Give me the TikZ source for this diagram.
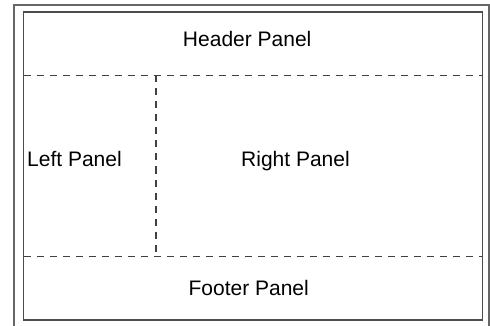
\documentclass[tikz,border=0pt]{standalone}
\usepackage{fontspec}
\setmainfont{Liberation Sans}
\usepackage{tikz}
\usetikzlibrary{positioning}

\begin{document}
\begin{tikzpicture}[x=1pt,y=-1pt,
  frame/.style={line width=1.5pt,draw=black!70},
  divider/.style={line width=1.4pt,draw=black!75,dash pattern=on 7pt off 6pt},
  label/.style={anchor=base,inner sep=0pt,font=\fontsize{21}{25}\selectfont}]
\useasboundingbox (0,0) rectangle (490,326);
\clip (0,0) rectangle (490,326);
\draw[frame,draw=black!60] (14,5) rectangle (489,340);
\draw[frame] (23.5,12) rectangle (482.5,320);
\coordinate (hl) at (23.5,75.5);
\coordinate (hr) at (482.5,75.5);
\coordinate (fl) at (23.5,256.5);
\coordinate (fr) at (482.5,256.5);
\coordinate (vt) at (156,75.5);
\coordinate (vb) at (156,256.5);
\draw[divider] (hl) -- (hr);
\draw[divider] (fl) -- (fr);
\draw[divider] (vt) -- (vb);
\node[label] (header) at (247.2,46.7) {Header Panel};
\node[label] (left) at (74.5,166.7) {Left Panel};
\node[label] (right) at (295.5,166.7) {Right Panel};
\node[label] (footer) at (248.7,295) {Footer Panel};
\end{tikzpicture}
\end{document}
